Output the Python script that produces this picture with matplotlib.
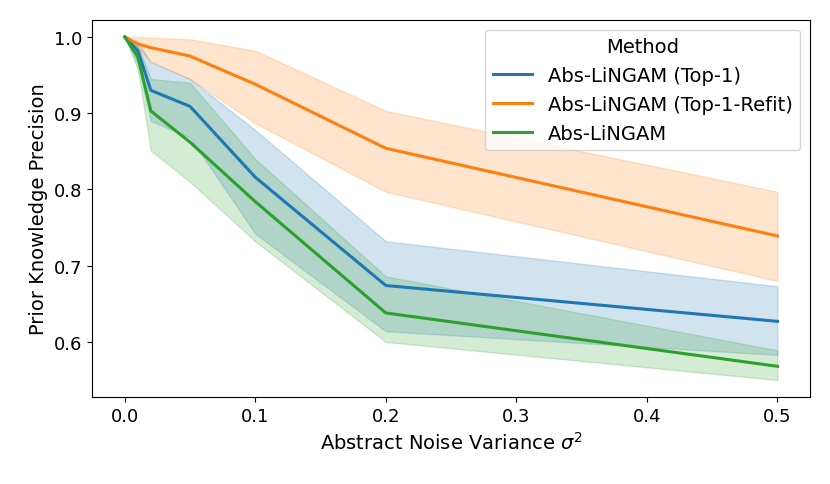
import matplotlib
matplotlib.use("Agg")
import matplotlib.pyplot as plt

noise = [0.0, 0.01, 0.02, 0.05, 0.1, 0.2, 0.5]

methods = ["Abs-LiNGAM (Top-1)", "Abs-LiNGAM (Top-1-Refit)", "Abs-LiNGAM"]
colors = ["#1f77b4", "#ff7f0e", "#2ca02c"]

top1_mean = [1.0, 0.982, 0.930, 0.909, 0.816, 0.674, 0.627]
top1_low = [1.0, 0.965, 0.890, 0.868, 0.742, 0.614, 0.583]
top1_high = [1.0, 0.993, 0.967, 0.945, 0.878, 0.732, 0.673]

refit_mean = [1.0, 0.991, 0.986, 0.975, 0.938, 0.854, 0.739]
refit_low = [1.0, 0.985, 0.968, 0.945, 0.887, 0.797, 0.680]
refit_high = [1.0, 1.0, 0.999, 0.997, 0.982, 0.903, 0.797]

abs_mean = [1.0, 0.974, 0.903, 0.862, 0.784, 0.638, 0.568]
abs_low = [1.0, 0.958, 0.851, 0.810, 0.732, 0.600, 0.550]
abs_high = [1.0, 0.988, 0.945, 0.940, 0.840, 0.686, 0.589]

means = [top1_mean, refit_mean, abs_mean]
lows = [top1_low, refit_low, abs_low]
highs = [top1_high, refit_high, abs_high]

fig, ax = plt.subplots(figsize=(8.3, 4.85), dpi=100)

for name, c, m, lo, hi in zip(methods, colors, means, lows, highs):
	ax.plot(noise, m, color=c, lw=2.2, label=name)
	ax.fill_between(noise, lo, hi, color=c, alpha=0.2)

ax.set_xlabel(r"Abstract Noise Variance $\sigma^2$", fontsize=14)
ax.set_ylabel("Prior Knowledge Precision", fontsize=14)
ax.tick_params(labelsize=13)
ax.set_yticks([0.6, 0.7, 0.8, 0.9, 1.0])
ax.legend(title="Method", loc="upper right", fontsize=14, title_fontsize=14)

plt.subplots_adjust(left=0.111, right=0.976, top=0.957, bottom=0.179)
fig.savefig("out.png")
